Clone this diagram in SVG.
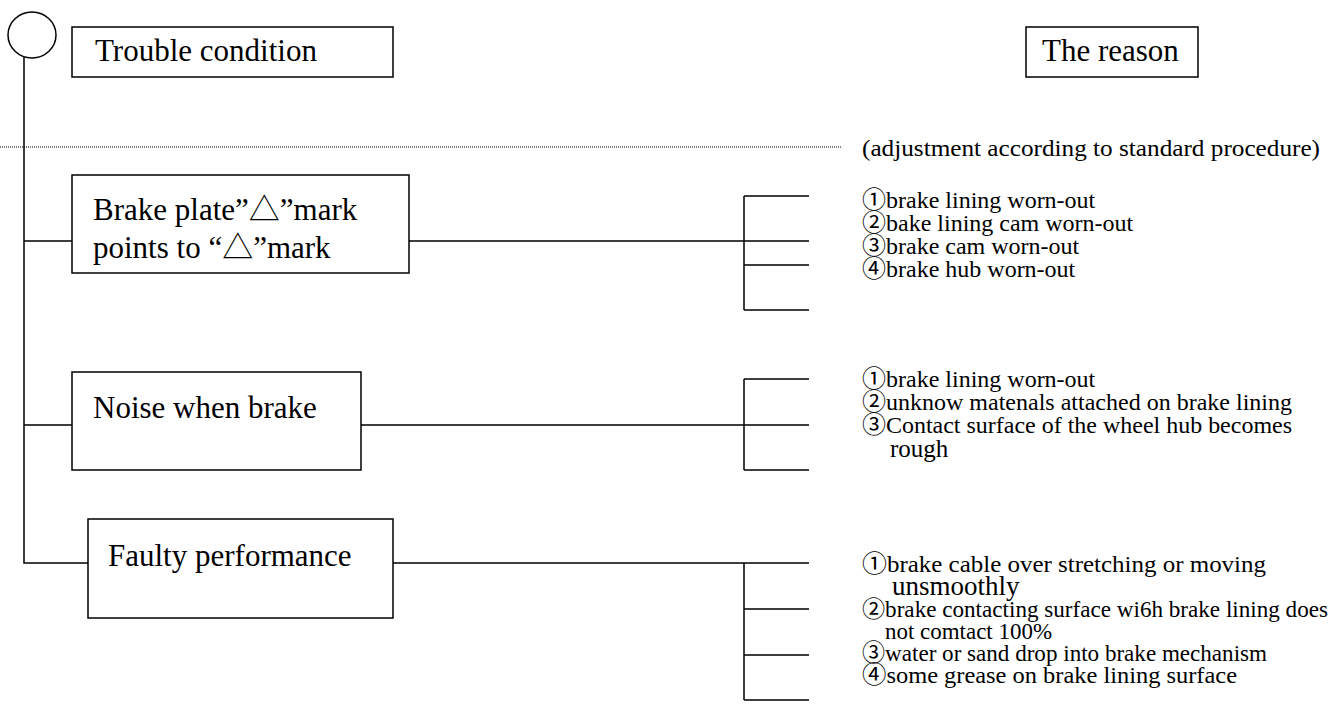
<svg xmlns="http://www.w3.org/2000/svg" width="1337" height="720" viewBox="0 0 1337 720">
<style>
.box{fill:#fff;stroke:#000;stroke-width:1.5}
.ln{fill:none;stroke:#000;stroke-width:1.5}
.t{font-family:"Liberation Serif","Noto Sans CJK JP",serif;fill:#000}
.big{font-size:31px}
.r{font-size:24px}
.c{font-size:24px}
</style>
<rect width="1337" height="720" fill="#fff"/>
<g id="connectors">
<ellipse class="ln" cx="32" cy="35" rx="24" ry="23"/>
<path class="ln" d="M24 57 V563 H88"/>
<path class="ln" d="M24 241 H72 M24 425 H72"/>
<line x1="0" y1="147" x2="842" y2="147" stroke="#000" stroke-width="1" stroke-dasharray="1 1"/>
<path class="ln" d="M409 241 H744 M744 196 V310 M744 196 H809 M744 241 H809 M744 265 H809 M744 310 H809"/>
<path class="ln" d="M361 425 H744 M744 379 V470 M744 379 H809 M744 425 H809 M744 470 H809"/>
<path class="ln" d="M393 563 H809 M744 563 V700 M744 609 H809 M744 655 H809 M744 700 H809"/>
</g>
<g id="trouble">
<rect class="box" x="72" y="27" width="321" height="50"/>
<text class="t big" x="95" y="61">Trouble condition</text>
</g>
<g id="reason">
<rect class="box" x="1026" y="27" width="172" height="50"/>
<text class="t big" x="1042" y="61">The reason</text>
</g>
<text class="t" style="font-size:24px" x="862" y="156" textLength="458" lengthAdjust="spacingAndGlyphs">(adjustment according to standard procedure)</text>
<g id="brakeplate">
<rect class="box" x="72" y="175" width="337" height="98"/>
<text class="t big" x="93" y="220">Brake plate”△”mark</text>
<text class="t big" x="93" y="258">points to “△”mark</text>
</g>
<g id="noise">
<rect class="box" x="72" y="372" width="289" height="98"/>
<text class="t big" x="93" y="418">Noise when brake</text>
</g>
<g id="faulty">
<rect class="box" x="88" y="519" width="305" height="99"/>
<text class="t big" x="108" y="566">Faulty performance</text>
</g>
<g id="reasons1" class="t r">
<text x="862" y="208">①brake lining worn-out</text>
<text x="862" y="231">②bake lining cam worn-out</text>
<text x="862" y="254">③brake cam worn-out</text>
<text x="862" y="277">④brake hub worn-out</text>
</g>
<g id="reasons2" class="t">
<text class="r" x="862" y="387">①brake lining worn-out</text>
<text class="c" x="862" y="410" textLength="430" lengthAdjust="spacingAndGlyphs">②unknow matenals attached on brake lining</text>
<text class="c" x="862" y="433" textLength="430" lengthAdjust="spacingAndGlyphs">③Contact surface of the wheel hub becomes</text>
<text style="font-size:25px" x="890" y="457">rough</text>
</g>
<g id="reasons3" class="t c">
<text x="862" y="572" textLength="404" lengthAdjust="spacingAndGlyphs">①brake cable over stretching or moving</text>
<text style="font-size:27px" x="892" y="595">unsmoothly</text>
<text style="font-size:23px" x="862" y="617" textLength="466" lengthAdjust="spacingAndGlyphs">②brake contacting surface wi6h brake lining does</text>
<text x="885" y="639" textLength="167" lengthAdjust="spacingAndGlyphs">not comtact 100%</text>
<text x="862" y="661" textLength="405" lengthAdjust="spacingAndGlyphs">③water or sand drop into brake mechanism</text>
<text x="862" y="683" textLength="375" lengthAdjust="spacingAndGlyphs">④some grease on brake lining surface</text>
</g>
</svg>
